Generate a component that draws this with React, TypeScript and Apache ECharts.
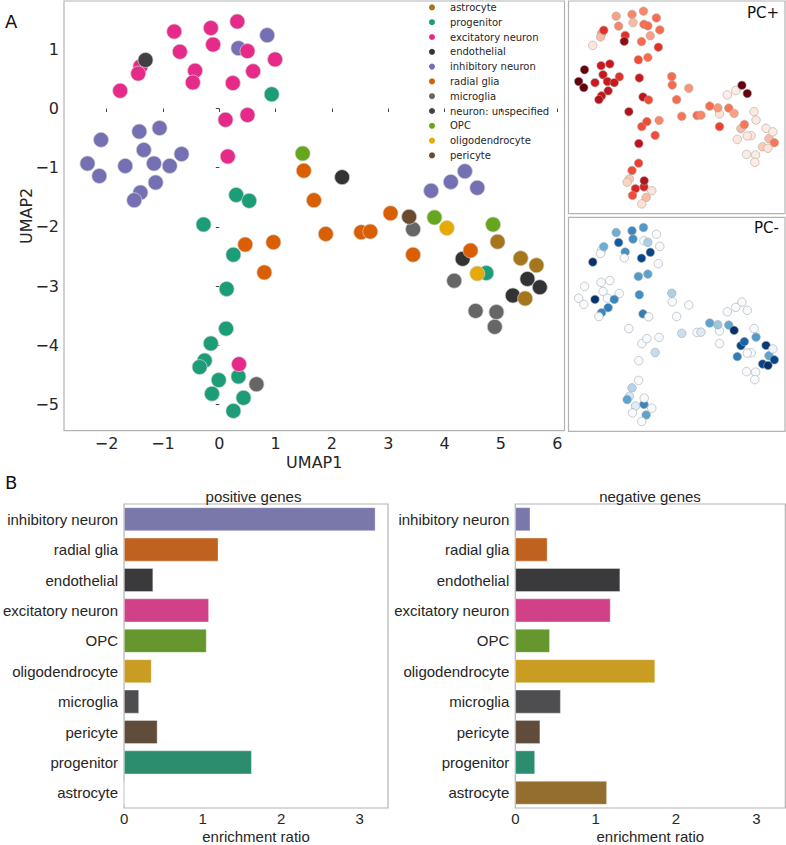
import React, { useEffect, useRef } from "react";
import * as echarts from "echarts";

// ---------- DATA ----------
// each point: [UMAP1, UMAP2, PC+ score (0-6), PC- score (0-6)]
const cellTypes = [
  "astrocyte",
  "progenitor",
  "excitatory neuron",
  "endothelial",
  "inhibitory neuron",
  "radial glia",
  "microglia",
  "neuron: unspecified",
  "OPC",
  "oligodendrocyte",
  "pericyte",
];

const astrocyte = [
  [4.94, -2.25, 0.5, 3.5],
  [5.35, -2.53, 0.4, 5.8],
  [5.63, -2.65, 0.4, 0.3],
  [5.43, -3.21, 0.6, 6],
];
const progenitor = [
  [0.93, 0.24, 4, 0],
  [0.3, -1.46, 4.8, 4.2],
  [0.53, -1.56, 3.5, 0],
  [-0.28, -1.96, 5, 0],
  [0.25, -2.47, 3.5, 0],
  [0.13, -3.05, 4.8, 0],
  [0.12, -3.72, 3.7, 0],
  [-0.15, -3.97, 3.5, 1.8],
  [-0.26, -4.26, 1.2, 1],
  [-0.35, -4.37, 1, 3.3],
  [0.34, -4.53, 4.3, 4],
  [-0.01, -4.59, 4.2, 0.7],
  [-0.13, -4.82, 3.5, 0],
  [0.43, -4.89, 1.5, 3.3],
  [0.25, -5.11, 0.7, 0],
  [4.74, -2.78, 0.5, 0],
];
const excitatoryNeuron = [
  [-0.8, 1.3, 2, 3],
  [-0.15, 1.36, 2.5, 4],
  [0.32, 1.47, 2.5, 3.5],
  [0.5, 0.97, 3, 2],
  [-0.11, 1.08, 1.5, 3.8],
  [-0.7, 0.96, 2.5, 5],
  [0.99, 0.83, 3, 0],
  [-1.4, 0.71, 2, 0.3],
  [-1.44, 0.59, 1.5, 0],
  [-0.43, 0.64, 4, 3.8],
  [0.6, 0.63, 2, 5.5],
  [-0.47, 0.44, 5.5, 0],
  [0.24, 0.43, 3, 5.5],
  [-1.76, 0.3, 0.5, 6],
  [0.11, -0.19, 3.5, 3.5],
  [0.5, -0.11, 3, 3.3],
  [0.15, -0.81, 4.5, 3.8],
  [0.35, -4.32, 5, 0],
];
const endothelial = [
  [2.18, -1.16, 2.2, 0],
  [4.32, -2.54, 1.5, 5.5],
  [5.47, -2.88, 1.5, 3.3],
  [5.69, -3.02, 2.8, 5.5],
  [5.21, -3.16, 1.2, 5.5],
];
const inhibitoryNeuron = [
  [0.85, 1.24, 3, 0],
  [0.34, 1.02, 3, 0],
  [-2.1, -0.53, 6, 0],
  [-1.42, -0.39, 4.5, 0],
  [-1.06, -0.33, 4.5, 0],
  [-1.34, -0.7, 4.5, 0],
  [-0.67, -0.77, 4, 0],
  [-2.34, -0.93, 6, 0],
  [-1.67, -0.97, 4.5, 6],
  [-1.16, -0.93, 4.5, 0],
  [-0.88, -0.97, 4.5, 4],
  [-2.13, -1.14, 6, 0],
  [-1.13, -1.25, 4.7, 4.2],
  [-1.4, -1.42, 4.7, 4],
  [-1.51, -1.55, 5, 0],
  [3.76, -1.39, 0.3, 0],
  [4.11, -1.24, 0.3, 0],
  [4.36, -1.06, 6, 0],
  [4.58, -1.34, 6, 0],
];
const radialGlia = [
  [1.5, -1.05, 3, 0],
  [1.68, -1.55, 3, 0],
  [1.89, -2.12, 2.8, 1.3],
  [0.46, -2.3, 3.5, 0],
  [0.96, -2.26, 2.5, 0],
  [0.8, -2.77, 3.5, 1.5],
  [3.04, -1.77, 3, 3.3],
  [2.52, -2.09, 3, 0],
  [2.68, -2.08, 2.5, 0.8],
  [3.44, -2.47, 3.7, 0],
  [4.46, -2.4, 2.8, 4.8],
];
const microglia = [
  [3.44, -2.04, 0.6, 0],
  [4.17, -2.91, 0.5, 4.2],
  [4.55, -3.42, 0.4, 0],
  [4.92, -3.44, 0.4, 0],
  [4.89, -3.69, 0.3, 0],
  [0.66, -4.66, 0.6, 0],
];
const neuronUnspecified = [[-1.31, 0.82, 4, 3]];
const opc = [
  [1.48, -0.76, 3, 2],
  [3.82, -1.84, 2.8, 3.2],
  [4.86, -1.96, 0.5, 0],
];
const oligodendrocyte = [
  [4.04, -2.02, 2, 6],
  [4.58, -2.79, 0.5, 0],
];
const pericyte = [[3.37, -1.83, 2.2, 2.3]];

const pointsByType: Record<string, number[][]> = {
  astrocyte: astrocyte,
  progenitor: progenitor,
  "excitatory neuron": excitatoryNeuron,
  endothelial: endothelial,
  "inhibitory neuron": inhibitoryNeuron,
  "radial glia": radialGlia,
  microglia: microglia,
  "neuron: unspecified": neuronUnspecified,
  OPC: opc,
  oligodendrocyte: oligodendrocyte,
  pericyte: pericyte,
};

const umapXTicks = [-2, -1, 0, 1, 2, 3, 4, 5, 6];
const umapYTicks = [-5, -4, -3, -2, -1, 0, 1];

const barCategories = [
  "inhibitory neuron",
  "radial glia",
  "endothelial",
  "excitatory neuron",
  "OPC",
  "oligodendrocyte",
  "microglia",
  "pericyte",
  "progenitor",
  "astrocyte",
];
const positiveRatio = [3.2, 1.2, 0.37, 1.08, 1.05, 0.35, 0.19, 0.425, 1.625, 0];
const negativeRatio = [0.187, 0.4, 1.305, 1.185, 0.43, 1.74, 0.565, 0.31, 0.245, 1.14];
const ratioTicks = [0, 1, 2, 3];

// ---------- STYLE ----------
const FONT = "DejaVu Sans";
const FONT_B = "Liberation Sans";
const TXT = "#262626";
const FRAME = "#b3b3b3";

const scatterColors: Record<string, string> = {
  astrocyte: "#a6761d",
  progenitor: "#1b9e77",
  "excitatory neuron": "#e7298a",
  endothelial: "#333336",
  "inhibitory neuron": "#7570b3",
  "radial glia": "#d95f02",
  microglia: "#666666",
  "neuron: unspecified": "#404044",
  OPC: "#66a61e",
  oligodendrocyte: "#e6ab02",
  pericyte: "#6b4b2e",
};
const barColors: Record<string, string> = {
  "inhibitory neuron": "#7a78ab",
  "radial glia": "#c0621f",
  endothelial: "#3a3a3c",
  "excitatory neuron": "#d04187",
  OPC: "#66962e",
  oligodendrocyte: "#c99c22",
  microglia: "#4e4e50",
  pericyte: "#604c3b",
  progenitor: "#2b8c6e",
  astrocyte: "#946e2e",
};
const drawOrder = [
  "inhibitory neuron",
  "progenitor",
  "endothelial",
  "microglia",
  "excitatory neuron",
  "neuron: unspecified",
  "radial glia",
  "OPC",
  "oligodendrocyte",
  "pericyte",
  "astrocyte",
];

const REDS = ["#fff5f0", "#fee0d2", "#fcbba1", "#fc9272", "#fb6a4a", "#ef3b2c", "#cb181d", "#a50f15", "#67000d"];
const BLUES = ["#f7fbff", "#deebf7", "#c6dbef", "#9ecae1", "#6baed6", "#4292c6", "#2171b5", "#08519c", "#08306b"];

const X_MIN = -2.757;
const X_MAX = 6.128;
const Y_MIN = -5.445;
const Y_MAX = 1.817;

const minusFmt = (v: number) => (v < 0 ? "\u2212" + Math.abs(v) : String(v));

function buildOption() {
  const allPoints: number[][] = [];
  drawOrder.forEach((t) => pointsByType[t].forEach((p) => allPoints.push(p)));

  const hiddenAxis = (idx: number, isX: boolean) => ({
    type: "value",
    gridIndex: idx,
    min: isX ? X_MIN : Y_MIN,
    max: isX ? X_MAX : Y_MAX,
    show: false,
    splitLine: { show: false },
  });

  const mainSeries = drawOrder.map((t) => ({
    type: "scatter",
    name: t,
    xAxisIndex: 0,
    yAxisIndex: 0,
    symbolSize: 15,
    data: pointsByType[t].map((p) => [p[0], p[1]]),
    itemStyle: { color: scatterColors[t], borderColor: "rgba(210,210,210,0.9)", borderWidth: 0.8, opacity: 1 },
    emphasis: { disabled: true },
  }));

  const barAxisX = (idx: number) => ({
    type: "value",
    gridIndex: idx,
    min: 0,
    max: 3.36,
    splitLine: { show: false },
    axisLine: { show: false },
    axisTick: { show: false },
    axisLabel: { customValues: ratioTicks, fontSize: 15, color: TXT, fontFamily: FONT_B, margin: 3 },
    name: "enrichment ratio",
    nameLocation: "middle",
    nameGap: 21,
    nameMoveOverlap: false,
    nameTextStyle: { fontSize: 15, color: TXT, fontFamily: FONT_B },
  });
  const barAxisY = (idx: number) => ({
    type: "category",
    gridIndex: idx,
    data: barCategories,
    inverse: true,
    axisLine: { show: false },
    axisTick: { show: false },
    splitLine: { show: false },
    axisLabel: { fontSize: 15, color: TXT, fontFamily: FONT_B, margin: 6 },
  });
  const barSeries = (idx: number, name: string, vals: number[]) => ({
    type: "bar",
    name,
    xAxisIndex: idx,
    yAxisIndex: idx,
    barWidth: "78%",
    data: vals.map((v, i) => ({
      value: v,
      itemStyle: { color: barColors[barCategories[i]], borderColor: "rgba(255,255,255,0.6)", borderWidth: 0.6 },
    })),
    emphasis: { disabled: true },
  });

  return {
    animation: false,
    textStyle: { fontFamily: FONT },
    grid: [
      { left: 64, top: 1, width: 500.5, height: 429.7, show: true, borderColor: FRAME, borderWidth: 1.2, backgroundColor: "transparent" },
      { left: 568.5, top: 1, width: 216.5, height: 212.7, show: true, borderColor: FRAME, borderWidth: 1.2, backgroundColor: "transparent" },
      { left: 568.5, top: 217.3, width: 216.5, height: 214, show: true, borderColor: FRAME, borderWidth: 1.2, backgroundColor: "transparent" },
      { left: 119, top: 504, width: 269, height: 308, show: true, borderColor: FRAME, borderWidth: 1.2, backgroundColor: "transparent" },
      { left: 515.3, top: 504, width: 270, height: 308, show: true, borderColor: FRAME, borderWidth: 1.2, backgroundColor: "transparent" },
    ],
    xAxis: [
      {
        type: "value",
        gridIndex: 0,
        min: X_MIN,
        max: X_MAX,
        splitLine: { show: false },
        axisLine: { show: false },
        axisTick: { show: true, customValues: umapXTicks, length: 3.5, lineStyle: { color: "#444", width: 1 } },
        axisLabel: { customValues: umapXTicks, formatter: minusFmt, fontSize: 16, color: TXT, fontFamily: FONT, margin: 5 },
        name: "UMAP1",
        nameLocation: "middle",
        nameGap: 24,
        nameMoveOverlap: false,
        nameTextStyle: { fontSize: 16, color: TXT, fontFamily: FONT },
      },
      hiddenAxis(1, true),
      hiddenAxis(2, true),
      barAxisX(3),
      barAxisX(4),
    ],
    yAxis: [
      {
        type: "value",
        gridIndex: 0,
        min: Y_MIN,
        max: Y_MAX,
        splitLine: { show: false },
        axisLine: { show: false },
        axisTick: { show: true, customValues: umapYTicks, length: 3.5, lineStyle: { color: "#444", width: 1 } },
        axisLabel: { customValues: umapYTicks, formatter: minusFmt, fontSize: 16, color: TXT, fontFamily: FONT, margin: 5 },
        name: "UMAP2",
        nameLocation: "middle",
        nameGap: 30,
        nameRotate: 90,
        nameMoveOverlap: false,
        nameTextStyle: { fontSize: 16, color: TXT, fontFamily: FONT },
      },
      hiddenAxis(1, false),
      hiddenAxis(2, false),
      barAxisY(3),
      barAxisY(4),
    ],
    legend: {
      data: cellTypes,
      orient: "vertical",
      left: 429,
      top: 0,
      padding: 0,
      itemWidth: 26,
      itemHeight: 6,
      itemGap: 0,
      icon: "circle",
      selectedMode: false,
      itemStyle: { borderWidth: 0 },
      textStyle: { fontSize: 10, color: TXT, fontFamily: FONT, lineHeight: 14.8 },
    },
    visualMap: [
      { type: "continuous", show: false, seriesIndex: drawOrder.length, dimension: 2, min: 0, max: 6, inRange: { color: REDS } },
      { type: "continuous", show: false, seriesIndex: drawOrder.length + 1, dimension: 3, min: 0, max: 6, inRange: { color: BLUES } },
    ],
    series: [
      ...mainSeries,
      {
        type: "scatter",
        name: "PC+",
        xAxisIndex: 1,
        yAxisIndex: 1,
        symbolSize: 8.5,
        data: allPoints,
        itemStyle: { borderColor: "#a8a8a8", borderWidth: 0.6, opacity: 1 },
        emphasis: { disabled: true },
      },
      {
        type: "scatter",
        name: "PC-",
        xAxisIndex: 2,
        yAxisIndex: 2,
        symbolSize: 8.5,
        data: allPoints,
        itemStyle: { borderColor: "#a8a8a8", borderWidth: 0.6, opacity: 1 },
        emphasis: { disabled: true },
      },
      barSeries(3, "positive genes", positiveRatio),
      barSeries(4, "negative genes", negativeRatio),
    ],
    graphic: [
      { type: "text", left: 5, top: 12, style: { text: "A", font: `18px "${FONT}"`, fill: "#111" } },
      { type: "text", left: 5, top: 473, style: { text: "B", font: `18px "${FONT}"`, fill: "#111" } },
      { type: "text", x: 779, y: 13, style: { text: "PC+", font: `15px "${FONT}"`, fill: "#111", align: "right", verticalAlign: "middle" } },
      { type: "text", x: 779, y: 228, style: { text: "PC-", font: `15px "${FONT}"`, fill: "#111", align: "right", verticalAlign: "middle" } },
      { type: "text", x: 253.5, y: 496, style: { text: "positive genes", font: `15px "${FONT_B}"`, fill: TXT, align: "center", verticalAlign: "middle" } },
      { type: "text", x: 650, y: 496, style: { text: "negative genes", font: `15px "${FONT_B}"`, fill: TXT, align: "center", verticalAlign: "middle" } },
    ],
  };
}

export default function App() {
  const ref = useRef<HTMLDivElement>(null);
  useEffect(() => {
    if (!ref.current) return;
    const chart = echarts.init(ref.current, null, { renderer: "svg" });
    chart.setOption(buildOption() as any);
    return () => chart.dispose();
  }, []);
  return (
    <div
      ref={ref}
      style={{ position: "absolute", left: 0, top: 0, width: 786, height: 845, background: "#fff" }}
    />
  );
}
